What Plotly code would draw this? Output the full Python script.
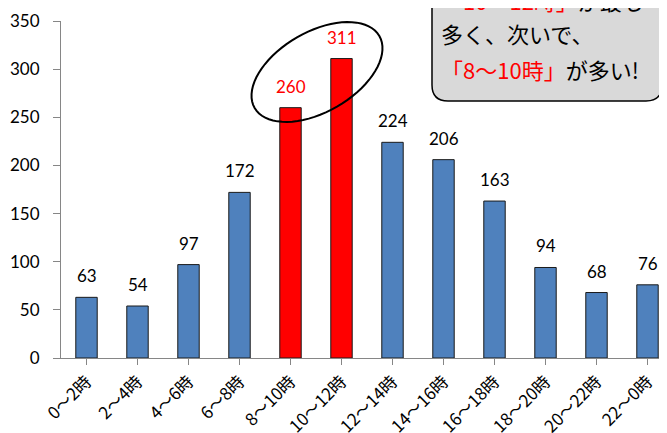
import numpy as np
import plotly.graph_objects as go

categories = ["0～2時", "2～4時", "4～6時", "6～8時", "8～10時", "10～12時",
              "12～14時", "14～16時", "16～18時", "18～20時", "20～22時", "22～0時"]
values = [63, 54, 97, 172, 260, 311, 224, 206, 163, 94, 68, 76]
highlight = [False, False, False, False, True, True, False, False, False, False, False, False]
y_ticks = [0, 50, 100, 150, 200, 250, 300, 350]

BLUE = "#4F81BD"
RED = "#FF0000"
bar_colors = [RED if h else BLUE for h in highlight]
label_colors = [RED if h else "#000000" for h in highlight]

OFF = 8  # page body offset
W, H = 667 - OFF, 433 - OFF
ML, MR, MT, MB = 61 - OFF, 0, 21 - OFF, 75
PW, PH = W - ML - MR, H - MT - MB
XMIN, XMAX = -0.5, -0.5 + PW / 51.0
YMIN, YMAX = 0, 350


def px_to_data(px, py):
    px -= OFF
    py -= OFF
    x = XMIN + (px - ML) / PW * (XMAX - XMIN)
    y = YMIN + (MT + PH - py) / PH * (YMAX - YMIN)
    return x, y


def px_to_paper(px, py):
    px -= OFF
    py -= OFF
    return (px - ML) / PW, (MT + PH - py) / PH


fig = go.Figure()
fig.add_trace(go.Bar(
    x=list(range(len(categories))), y=values,
    marker=dict(color=bar_colors, line=dict(color="#1a1a1a", width=1)),
    width=0.42, hoverinfo="skip",
))

annotations = []
for i, v in enumerate(values):
    annotations.append(dict(
        x=i, y=v, xref="x", yref="y", text=str(v), showarrow=False,
        yanchor="bottom", yshift=9,
        font=dict(family="Lato, Noto Sans CJK JP", size=17, color=label_colors[i]),
    ))

# Ellipse around the highlighted bars
cx, cy, a, b, th = 317, 72, 72, 40, np.deg2rad(30)
t = np.linspace(0, 2 * np.pi, 73)
ex = cx + a * np.cos(t) * np.cos(th) + b * np.sin(t) * np.sin(th)
ey = cy - a * np.cos(t) * np.sin(th) + b * np.sin(t) * np.cos(th)
pts = [px_to_data(x_, y_) for x_, y_ in zip(ex, ey)]
ell_path = "M " + " L ".join(f"{p[0]:.4f},{p[1]:.4f}" for p in pts) + " Z"

# Rounded callout box
x0, x1, y0, y1, r = 432, 662, -30, 101, 16
corners = [
    (x0 + r, y0), (x1 - r, y0), (x1, y0 + r), (x1, y1 - r), (x1 - r, y1),
    (x0 + r, y1), (x0, y1 - r), (x0, y0 + r),
]
def pp(p):
    q = px_to_paper(*p)
    return f"{q[0]:.5f},{q[1]:.5f}"
c = corners
box_path = (f"M {pp(c[0])} L {pp(c[1])} Q {pp((x1, y0))} {pp(c[2])} L {pp(c[3])} "
            f"Q {pp((x1, y1))} {pp(c[4])} L {pp(c[5])} Q {pp((x0, y1))} {pp(c[6])} "
            f"L {pp(c[7])} Q {pp((x0, y0))} {pp(c[0])} Z")

shapes = [
    dict(type="path", path=box_path, xref="paper", yref="paper",
         fillcolor="#D9D9D9", line=dict(color="#000000", width=1.5), layer="above"),
    dict(type="path", path=ell_path, xref="x", yref="y",
         line=dict(color="#000000", width=2), layer="above"),
]

callout_lines = [
    ("<span style='color:#FF0000'>「10～12時」</span>が最も", 0),
    ("多く、次いで、", 33),
    ("<span style='color:#FF0000'>「8～10時」</span>が多い!", 69),
]
for txt, py in callout_lines:
    px_, py_ = px_to_paper(439, py)
    annotations.append(dict(
        x=px_, y=py_, xref="paper", yref="paper", text=txt, showarrow=False,
        xanchor="left", yanchor="middle",
        font=dict(family="Noto Sans CJK JP", size=22, color="#000000"),
    ))

fig.update_layout(
    width=W, height=H,
    margin=dict(l=ML, r=MR, t=MT, b=MB, autoexpand=False),
    paper_bgcolor="white", plot_bgcolor="white",
    showlegend=False,
    shapes=shapes, annotations=annotations,
    xaxis=dict(
        range=[XMIN, XMAX], tickmode="array", automargin=False,
        tickvals=list(range(len(categories))), ticktext=categories,
        tickangle=-45, tickson="boundaries", ticks="outside", ticklen=6,
        tickcolor="#868686", showline=True, linecolor="#868686", linewidth=1,
        showgrid=False, zeroline=False,
        tickfont=dict(family="Noto Sans CJK JP", size=17, color="#000000"),
    ),
    yaxis=dict(
        range=[YMIN, YMAX], tickmode="array", tickvals=y_ticks, automargin=False,
        ticks="outside", ticklen=7, tickcolor="#868686", ticklabelstandoff=10,
        showline=True, linecolor="#868686", linewidth=1,
        showgrid=False, zeroline=False,
        tickfont=dict(family="Lato, Noto Sans CJK JP", size=17, color="#000000"),
    ),
)

fig.write_html("out.html")
